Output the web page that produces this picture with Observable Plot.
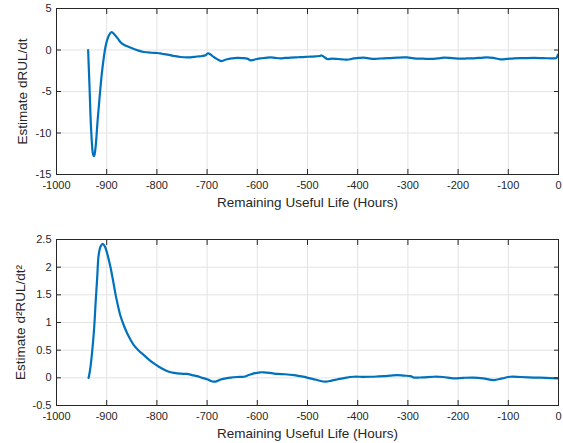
<!DOCTYPE html>
<html>
<head>
<meta charset="utf-8">
<script src="https://cdn.jsdelivr.net/npm/d3@7"></script>
<script src="https://cdn.jsdelivr.net/npm/@observablehq/plot@0.6"></script>
<style>
  html, body { margin: 0; padding: 0; background: #fff; }
  #wrap { position: relative; width: 563px; height: 443px; }
  #wrap svg { position: absolute; left: 0; }
</style>
</head>
<body>
<div id="wrap"></div>
<script>
// ---- data ----
const xTicks = [-1000, -900, -800, -700, -600, -500, -400, -300, -200, -100, 0];
const yTicksTop = [-15, -10, -5, 0, 5];
const yTicksBottom = [-0.5, 0, 0.5, 1, 1.5, 2, 2.5];
const xLabel = "Remaining Useful Life (Hours)";
const yLabelTop = "Estimate dRUL/dt";
const yLabelBottom = "Estimate d²RUL/dt²";

const hoursTop = [-937, -934, -931, -927, -925, -922, -918, -914, -910, -906, -902, -898, -894, -890, -885, -878, -873, -865, -853, -840, -826, -810, -799, -790, -779, -765, -753, -740, -733, -720, -710, -703, -698, -692, -687, -680, -672, -665, -660, -650, -640, -630, -620, -613, -605, -594, -584, -574, -564, -554, -544, -534, -524, -514, -504, -494, -484, -476, -472, -468, -461, -451, -441, -431, -421, -414, -408, -398, -388, -378, -368, -358, -348, -335, -321, -310, -301, -288, -270, -255, -240, -228, -212, -195, -182, -169, -155, -142, -130, -116, -103, -89, -70, -49, -30, -10, -4, -1];
const dRUL = [0, -4.8, -9.6, -12.6, -12.8, -11.6, -8.4, -5.6, -3.0, -1.0, 0.5, 1.4, 1.95, 2.15, 1.9, 1.4, 0.97, 0.6, 0.3, 0.0, -0.24, -0.33, -0.36, -0.45, -0.55, -0.72, -0.84, -0.9, -0.88, -0.78, -0.72, -0.62, -0.4, -0.6, -0.84, -1.1, -1.33, -1.2, -1.12, -1.0, -0.96, -0.98, -1.04, -1.24, -1.15, -1.0, -0.95, -0.88, -0.95, -1.0, -0.95, -0.93, -0.9, -0.85, -0.82, -0.8, -0.76, -0.72, -0.66, -0.8, -1.08, -1.05, -1.08, -1.12, -1.17, -1.1, -1.0, -0.96, -0.93, -1.0, -1.08, -1.04, -1.0, -0.97, -0.93, -0.9, -0.9, -1.0, -1.04, -1.08, -1.0, -0.93, -0.98, -1.05, -1.02, -1.0, -0.94, -0.88, -0.95, -1.12, -1.08, -1.0, -0.98, -0.96, -0.98, -1.0, -0.95, -0.55];

const hoursBottom = [-936, -933, -929, -925, -922, -919, -916, -912, -908, -904, -900, -896, -892, -887, -882, -877, -873, -866, -859, -852, -846, -836, -826, -816, -806, -796, -786, -776, -766, -753, -740, -730, -720, -710, -700, -693, -687, -680, -673, -663, -653, -640, -627, -617, -607, -594, -587, -575, -560, -545, -527, -515, -501, -483, -464, -452, -441, -425, -408, -390, -375, -360, -348, -335, -321, -308, -295, -288, -270, -248, -230, -209, -190, -169, -150, -129, -112, -96, -75, -49, -25, -1];
const d2RUL = [0, 0.15, 0.47, 0.9, 1.37, 1.8, 2.22, 2.38, 2.42, 2.38, 2.28, 2.14, 1.98, 1.74, 1.49, 1.28, 1.13, 0.95, 0.8, 0.68, 0.59, 0.49, 0.41, 0.33, 0.26, 0.2, 0.15, 0.11, 0.09, 0.075, 0.07, 0.05, 0.03, 0.0, -0.025, -0.055, -0.07, -0.06, -0.03, -0.01, 0.005, 0.015, 0.02, 0.05, 0.08, 0.1, 0.1, 0.09, 0.07, 0.065, 0.05, 0.03, 0.005, -0.035, -0.07, -0.05, -0.03, 0.0, 0.02, 0.018, 0.02, 0.025, 0.03, 0.04, 0.05, 0.04, 0.03, 0.005, 0.01, 0.02, 0.015, -0.01, 0.0, 0.005, -0.01, -0.04, -0.01, 0.02, 0.015, 0.005, 0.0, -0.01];

// ---- styling ----
const FONT = "'Liberation Sans', Arial, Helvetica, sans-serif";
const AX = "#262626";
const GRID = "#e3e3e3";
const BLUE = "#0072BD";
const fmt = d => String(d);

function panel({hours, values, yDomain, yTicks, yLabel, height, marginTop, marginBottom, yLabelDx}) {
  const data = hours.map((h, i) => ({h, v: values[i]}));
  return Plot.plot({
    width: 563,
    height,
    marginLeft: 56,
    marginRight: 5,
    marginTop,
    marginBottom,
    style: {fontFamily: FONT, color: AX, background: "#fff", overflow: "visible"},
    x: {domain: [-1000, 0]},
    y: {domain: yDomain},
    marks: [
      Plot.gridX(xTicks, {stroke: GRID, strokeOpacity: 1}),
      Plot.gridY(yTicks, {stroke: GRID, strokeOpacity: 1}),
      Plot.line(data, {x: "h", y: "v", stroke: BLUE, strokeWidth: 2.2, strokeLinejoin: "round", curve: "catmull-rom"}),
      Plot.frame({stroke: AX, strokeWidth: 1}),
      // inward tick marks on all four sides
      Plot.axisX(xTicks, {anchor: "bottom", tickSize: -5, tickFormat: () => "", label: null, stroke: AX}),
      Plot.axisX(xTicks, {anchor: "top", tickSize: -5, tickFormat: () => "", label: null, stroke: AX}),
      Plot.axisY(yTicks, {anchor: "left", tickSize: -5, tickFormat: () => "", label: null, stroke: AX}),
      Plot.axisY(yTicks, {anchor: "right", tickSize: -5, tickFormat: () => "", label: null, stroke: AX}),
      // tick labels
      Plot.axisX(xTicks, {anchor: "bottom", tickSize: 0, tickPadding: 7, tickFormat: fmt, label: null, fontSize: 11, fill: AX}),
      Plot.axisY(yTicks, {anchor: "left", tickSize: 0, tickPadding: 5, tickFormat: fmt, label: null, fontSize: 11, fill: AX}),
      // axis titles
      Plot.text([xLabel], {frameAnchor: "bottom", dy: 28, text: d => d, fontSize: 13.5, fill: AX, textAnchor: "middle", lineAnchor: "middle"}),
      Plot.text([yLabel], {frameAnchor: "left", dx: yLabelDx, rotate: -90, text: d => d, fontSize: 13.5, fill: AX, textAnchor: "middle", lineAnchor: "middle"})
    ]
  });
}

const topPanel = panel({hours: hoursTop, values: dRUL, yDomain: [-15, 5], yTicks: yTicksTop, yLabel: yLabelTop,
  height: 210, marginTop: 8, marginBottom: 36, yLabelDx: -34});
topPanel.style.top = "0px";

const bottomPanel = panel({hours: hoursBottom, values: d2RUL, yDomain: [-0.5, 2.5], yTicks: yTicksBottom, yLabel: yLabelBottom,
  height: 223, marginTop: 19, marginBottom: 38, yLabelDx: -36});
bottomPanel.style.top = "220px";

const wrap = document.getElementById("wrap");
wrap.appendChild(topPanel);
wrap.appendChild(bottomPanel);
</script>
</body>
</html>
